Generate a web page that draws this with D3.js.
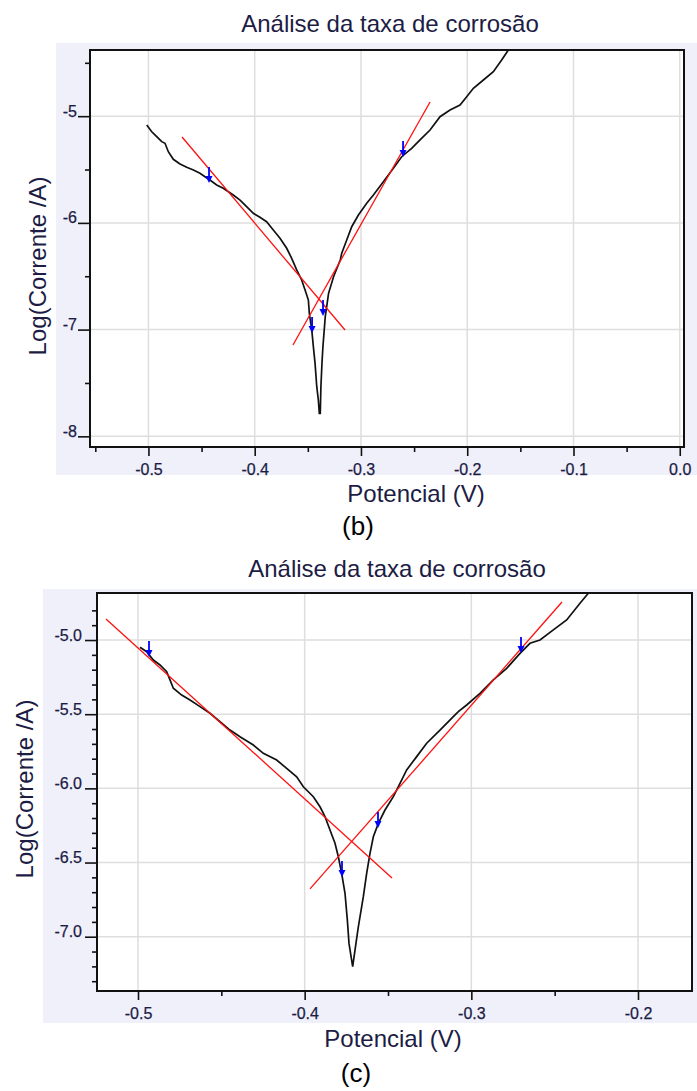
<!DOCTYPE html>
<html>
<head>
<meta charset="utf-8">
<script src="https://cdn.jsdelivr.net/npm/d3@7"></script>
<style>
  html, body { margin: 0; padding: 0; background: #ffffff; }
  svg { display: block; }
</style>
</head>
<body>
<svg id="chart" width="697" height="1091"></svg>
<script>
// ---------------- DATA ----------------
const titleText = "Análise da taxa de corrosão";
const xLabelText = "Potencial (V)";
const yLabelText = "Log(Corrente /A)";

// Panel (b)
const bPotential = [-0.5016,-0.4969,-0.4922,-0.4875,-0.4844,-0.4813,-0.4766,-0.4703,-0.4640,-0.4577,-0.4515,-0.4468,-0.4421,-0.4358,-0.4296,-0.4202,-0.4138,-0.4076,-0.4013,-0.3951,-0.3888,-0.3825,-0.3762,-0.3699,-0.3652,-0.3605,-0.3558,-0.3526,-0.3495,-0.3486,-0.3463,-0.3448,-0.3432,-0.3416,-0.3401,-0.3392,-0.3383,-0.3377,-0.3367,-0.3358,-0.3336,-0.3305,-0.3258,-0.3195,-0.3181,-0.3134,-0.3087,-0.3024,-0.2946,-0.2883,-0.2789,-0.2695,-0.2617,-0.2523,-0.2444,-0.2350,-0.2256,-0.2162,-0.2068,-0.2005,-0.1942,-0.1848,-0.1754,-0.1676,-0.1613];
const bLogCurrent = [-5.083,-5.146,-5.192,-5.239,-5.254,-5.333,-5.404,-5.448,-5.479,-5.504,-5.535,-5.567,-5.598,-5.645,-5.676,-5.739,-5.786,-5.848,-5.910,-5.948,-5.989,-6.067,-6.144,-6.238,-6.332,-6.441,-6.535,-6.629,-6.723,-6.847,-7.004,-7.160,-7.316,-7.535,-7.660,-7.784,-7.784,-7.535,-7.316,-7.160,-6.879,-6.660,-6.504,-6.348,-6.285,-6.160,-6.036,-5.926,-5.816,-5.739,-5.614,-5.488,-5.380,-5.301,-5.223,-5.130,-5.005,-4.942,-4.895,-4.818,-4.739,-4.661,-4.583,-4.474,-4.380];
const bCathodicX = [-0.4684, -0.3150];
const bCathodicY = [-5.195, -7.004];
const bAnodicX = [-0.3640, -0.2350];
const bAnodicY = [-7.144, -4.867];
const bArrowX = [-0.4430, -0.2604, -0.3460, -0.3357];
const bArrowY = [-5.626, -5.383, -7.032, -6.873];
const bXMajor = [-0.5, -0.4, -0.3, -0.2, -0.1, 0.0];
const bXMinor = [-0.55, -0.45, -0.35, -0.25, -0.15, -0.05];
const bYMajor = [-5, -6, -7, -8];
const bYMinor = [-4.5, -5.5, -6.5, -7.5];

// Panel (c)
const cPotential = [-0.4988,-0.4948,-0.4908,-0.4868,-0.4828,-0.4808,-0.4788,-0.4738,-0.4688,-0.4628,-0.4568,-0.4508,-0.4448,-0.4388,-0.4308,-0.4248,-0.4168,-0.4108,-0.4048,-0.4008,-0.3948,-0.3908,-0.3878,-0.3848,-0.3818,-0.3798,-0.3778,-0.3758,-0.3744,-0.3734,-0.3712,-0.3698,-0.3678,-0.3648,-0.3628,-0.3608,-0.3588,-0.3558,-0.3518,-0.3468,-0.3428,-0.3388,-0.3328,-0.3268,-0.3188,-0.3108,-0.3078,-0.3028,-0.2948,-0.2868,-0.2788,-0.2708,-0.2648,-0.2588,-0.2508,-0.2428,-0.2348,-0.2298];
const cLogCurrent = [-5.049,-5.079,-5.135,-5.168,-5.214,-5.269,-5.325,-5.371,-5.404,-5.449,-5.494,-5.551,-5.607,-5.652,-5.708,-5.764,-5.809,-5.865,-5.922,-5.989,-6.056,-6.124,-6.191,-6.281,-6.370,-6.461,-6.573,-6.707,-6.887,-7.045,-7.202,-7.090,-6.933,-6.730,-6.573,-6.438,-6.326,-6.236,-6.146,-6.056,-5.966,-5.876,-5.786,-5.696,-5.607,-5.517,-5.483,-5.438,-5.359,-5.269,-5.191,-5.090,-5.022,-5.000,-4.932,-4.865,-4.752,-4.685];
const cCathodicX = [-0.5192, -0.3476];
const cCathodicY = [-4.858, -6.604];
const cAnodicX = [-0.3968, -0.2456];
const cAnodicY = [-6.678, -4.744];
const cArrowX = [-0.4934, -0.2702, -0.3776, -0.3560];
const cArrowY = [-5.114, -5.087, -6.597, -6.267];
const cXMajor = [-0.5, -0.4, -0.3, -0.2];
const cXMinor = [-0.45, -0.35, -0.25];
const cYMajor = [-5.0, -5.5, -6.0, -6.5, -7.0];
const cYMinor = [-4.9, -4.8, -5.1, -5.2, -5.3, -5.4, -5.6, -5.7, -5.8, -5.9, -6.1, -6.2, -6.3, -6.4, -6.6, -6.7, -6.8, -6.9, -7.1, -7.2, -7.3];

// ---------------- DRAWING ----------------
const svg = d3.select("#chart");
const TXT = "#1c1c44";
const FONT = "'Liberation Sans', Arial, sans-serif";

function drawPanel(p) {
  const g = svg.append("g");
  g.append("rect").attr("x", p.bg[0]).attr("y", p.bg[1])
    .attr("width", p.bg[2]).attr("height", p.bg[3]).attr("fill", "#f0f0fb");

  const x = d3.scaleLinear().domain(p.xDomain).range([p.left, p.right]);
  const y = d3.scaleLinear().domain(p.yDomain).range([p.bottom, p.top]);

  g.append("rect").attr("x", p.left).attr("y", p.top)
    .attr("width", p.right - p.left).attr("height", p.bottom - p.top).attr("fill", "#ffffff");

  // grid
  g.append("g").selectAll("line").data(p.xMajor).join("line")
    .attr("x1", d => x(d)).attr("x2", d => x(d)).attr("y1", p.top).attr("y2", p.bottom)
    .attr("stroke", "#dedede").attr("stroke-width", 1.5);
  g.append("g").selectAll("line").data(p.yMajor).join("line")
    .attr("y1", d => y(d)).attr("y2", d => y(d)).attr("x1", p.left).attr("x2", p.right)
    .attr("stroke", "#dedede").attr("stroke-width", 1.5);

  const xAxis = g.append("g").attr("transform", `translate(0,${p.bottom})`)
    .call(d3.axisBottom(x).tickValues(p.xMajor).tickSize(9).tickPadding(8).tickFormat(p.fmt));
  const xAxisMinor = g.append("g").attr("transform", `translate(0,${p.bottom})`)
    .call(d3.axisBottom(x).tickValues(p.xMinor).tickSize(5).tickFormat(""));
  const yAxis = g.append("g").attr("transform", `translate(${p.left},0)`)
    .call(d3.axisLeft(y).tickValues(p.yMajor).tickSize(p.yTick).tickPadding(p.yPad).tickFormat(p.yFmt));
  const yAxisMinor = g.append("g").attr("transform", `translate(${p.left},0)`)
    .call(d3.axisLeft(y).tickValues(p.yMinor).tickSize(5).tickFormat(""));
  [xAxis, xAxisMinor, yAxis, yAxisMinor].forEach(a => {
    a.select(".domain").remove();
    a.selectAll(".tick line").attr("stroke", "#111").attr("stroke-width", 1.6);
    a.selectAll("text").attr("font-family", FONT).attr("font-size", 16).attr("fill", TXT)
      .attr("stroke", TXT).attr("stroke-width", 0.25);
  });
  xAxis.selectAll("text").attr("dy", "0.71em");
  yAxis.selectAll("text").attr("dy", "0em");

  g.append("rect").attr("x", p.left).attr("y", p.top)
    .attr("width", p.right - p.left).attr("height", p.bottom - p.top)
    .attr("fill", "none").attr("stroke", "#111").attr("stroke-width", 2);

  const clipId = "clip" + p.id;
  g.append("clipPath").attr("id", clipId).append("rect")
    .attr("x", p.left).attr("y", p.top).attr("width", p.right - p.left).attr("height", p.bottom - p.top);
  const plot = g.append("g").attr("clip-path", `url(#${clipId})`);

  const line = d3.line().x(d => x(d[0])).y(d => y(d[1]));
  plot.append("path").datum(d3.zip(p.px, p.py)).attr("d", line)
    .attr("fill", "none").attr("stroke", "#111").attr("stroke-width", 1.7);
  plot.append("path").datum(d3.zip(p.cx, p.cy)).attr("d", line)
    .attr("fill", "none").attr("stroke", "#ff1010").attr("stroke-width", 1.3);
  plot.append("path").datum(d3.zip(p.ax, p.ay)).attr("d", line)
    .attr("fill", "none").attr("stroke", "#ff1010").attr("stroke-width", 1.3);

  const arr = plot.append("g").selectAll("g").data(d3.zip(p.arX, p.arY)).join("g")
    .attr("transform", d => `translate(${x(d[0])},${y(d[1])})`);
  arr.append("line").attr("x1", 0).attr("x2", 0).attr("y1", -16).attr("y2", -2)
    .attr("stroke", "#0000ff").attr("stroke-width", 1.8);
  arr.append("path").attr("d", "M-3.5,-7 L3.5,-7 L0,0 Z").attr("fill", "#0000ff");

  g.append("text").attr("x", p.titleX).attr("y", p.titleY).attr("text-anchor", "middle")
    .attr("font-family", FONT).attr("font-size", 24).attr("fill", TXT).text(titleText);
  g.append("text").attr("x", p.xlX).attr("y", p.xlY).attr("text-anchor", "middle")
    .attr("font-family", FONT).attr("font-size", 24).attr("fill", TXT).text(xLabelText);
  g.append("text").attr("transform", `translate(${p.ylX},${p.ylY}) rotate(-90)`)
    .attr("text-anchor", "middle")
    .attr("font-family", FONT).attr("font-size", 24).attr("fill", TXT).text(yLabelText);
  g.append("text").attr("x", p.capX).attr("y", p.capY).attr("text-anchor", "middle")
    .attr("font-family", FONT).attr("font-size", 26).attr("fill", "#000").text(p.caption);
}

drawPanel({
  id: "b", bg: [56, 43, 641, 432],
  left: 90, right: 684, top: 50, bottom: 447,
  xDomain: [-0.555, 0.004], yDomain: [-8.10, -4.38],
  xMajor: bXMajor, xMinor: bXMinor, yMajor: bYMajor, yMinor: bYMinor,
  fmt: d => d3.format(".1f")(d).replace("−", "-"),
  yFmt: d => d3.format("d")(d).replace("−", "-"),
  yTick: 12, yPad: 1,
  px: bPotential, py: bLogCurrent, cx: bCathodicX, cy: bCathodicY, ax: bAnodicX, ay: bAnodicY,
  arX: bArrowX, arY: bArrowY,
  titleX: 390, titleY: 32, xlX: 416, xlY: 502, ylX: 46, ylY: 266,
  caption: "(b)", capX: 358, capY: 535
});

drawPanel({
  id: "c", bg: [43, 589, 654, 434],
  left: 97, right: 692, top: 593, bottom: 991,
  xDomain: [-0.5246, -0.1676], yDomain: [-7.366, -4.683],
  xMajor: cXMajor, xMinor: cXMinor, yMajor: cYMajor, yMinor: cYMinor,
  fmt: d => d3.format(".1f")(d).replace("−", "-"),
  yFmt: d => d3.format(".1f")(d).replace("−", "-"),
  yTick: 12, yPad: 3,
  px: cPotential, py: cLogCurrent, cx: cCathodicX, cy: cCathodicY, ax: cAnodicX, ay: cAnodicY,
  arX: cArrowX, arY: cArrowY,
  titleX: 397, titleY: 577, xlX: 393, xlY: 1047, ylX: 33, ylY: 789,
  caption: "(c)", capX: 356, capY: 1082
});
</script>
</body>
</html>
